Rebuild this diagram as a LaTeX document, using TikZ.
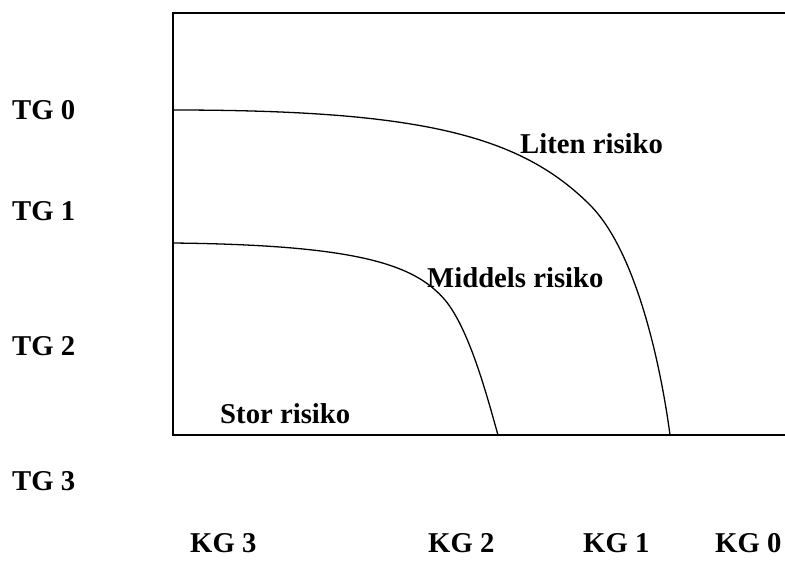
\documentclass[tikz,border=0pt]{standalone}
\usepackage{fontspec}
\setmainfont{Liberation Serif}
\usetikzlibrary{positioning}

\begin{document}
\begin{tikzpicture}[
  x=0.3mm, y=-0.3mm,
  font=\fontsize{24.5}{29}\selectfont\bfseries,
  label/.style={inner sep=0pt, anchor=base west},
  frame/.style={line width=1.7pt},
  zone/.style={line width=1.1pt}
]
\useasboundingbox (0,0) rectangle (785,560);

% frame of the chart (open to the right)
\draw[frame] (785,13) -- (173,13) -- (173,435) -- (785,435);

% condition grades
\node[label] (tg0) at (12,119) {TG 0};
\node[label] (tg1) at (12,220) {TG 1};
\node[label] (tg2) at (12,355) {TG 2};
\node[label] (tg3) at (12,490) {TG 3};

% consequence grades
\node[label] (kg3) at (190,552) {KG 3};
\node[label] (kg2) at (428,552) {KG 2};
\node[label] (kg1) at (583,552) {KG 1};
\node[label] (kg0) at (715,552) {KG 0};

% risk boundaries
\draw[zone] (173,110) .. controls (420,110) and (520,135) .. (590,205)
  .. controls (635,250) and (660,360) .. (670,435);
\draw[zone] (173,243) .. controls (360,245) and (415,265) .. (445,300)
  .. controls (470,330) and (488,400) .. (498,435);

\node[label] (liten) at (520,153) {Liten risiko};
\node[label] (middels) at (427,287) {Middels risiko};
\node[label] (stor) at (220,423) {Stor risiko};

\end{tikzpicture}
\end{document}
